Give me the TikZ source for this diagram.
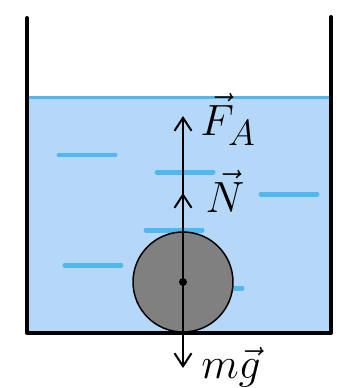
\documentclass[tikz,border=0pt]{standalone}
\usepackage{amsmath}
\usetikzlibrary{arrows.meta}
\definecolor{water}{RGB}{182,216,248}
\definecolor{ripple}{RGB}{80,184,238}
\begin{document}
\begin{tikzpicture}
    [x=0.02cm,y=-0.02cm,
     wall/.style={line width=0.08cm,line cap=round,line join=round},
     wave/.style={ripple,line width=0.1cm,line cap=round},
     ball/.style={circle,draw,fill=black!50,line width=0.03cm,minimum size=2cm,inner sep=0pt},
     force/.style={line width=0.04cm,-{Straight Barb[length=2.6mm,width=3.4mm]}},
     lbl/.style={font=\Huge}]
    \useasboundingbox (0,0) rectangle (354,388);
    \fill[water] (27,98) rectangle (331,333);
    \draw[ripple,line width=0.06cm] (27,98) -- (331,98);
    \foreach \x/\y in {57/155,155/172,259/194,144/230,63/265,184/288}
        \draw[wave] (\x+2,\y) -- ++(56,0);
    \draw[wall] (27,18) -- (27,333) -- (331,333) -- (331,17);
    \node[ball] (ball) at (183,282) {};
    \coordinate (tipF) at (183,116);
    \coordinate (tipN) at (183,193);
    \coordinate (tipG) at (183,368);
    \draw[force] (ball.center) -- (tipF);
    \draw[force] (ball.center) -- (tipN);
    \draw[force] (ball.center) -- (tipG);
    \fill (ball.center) circle (0.08cm);
    \node[lbl] (fa) at (228,119) {$\vec{F}_A$};
    \node[lbl] (n) at (225,191) {$\vec{N}$};
    \node[lbl] (mg) at (231,367) {$m\vec{g}$};
\end{tikzpicture}
\end{document}
